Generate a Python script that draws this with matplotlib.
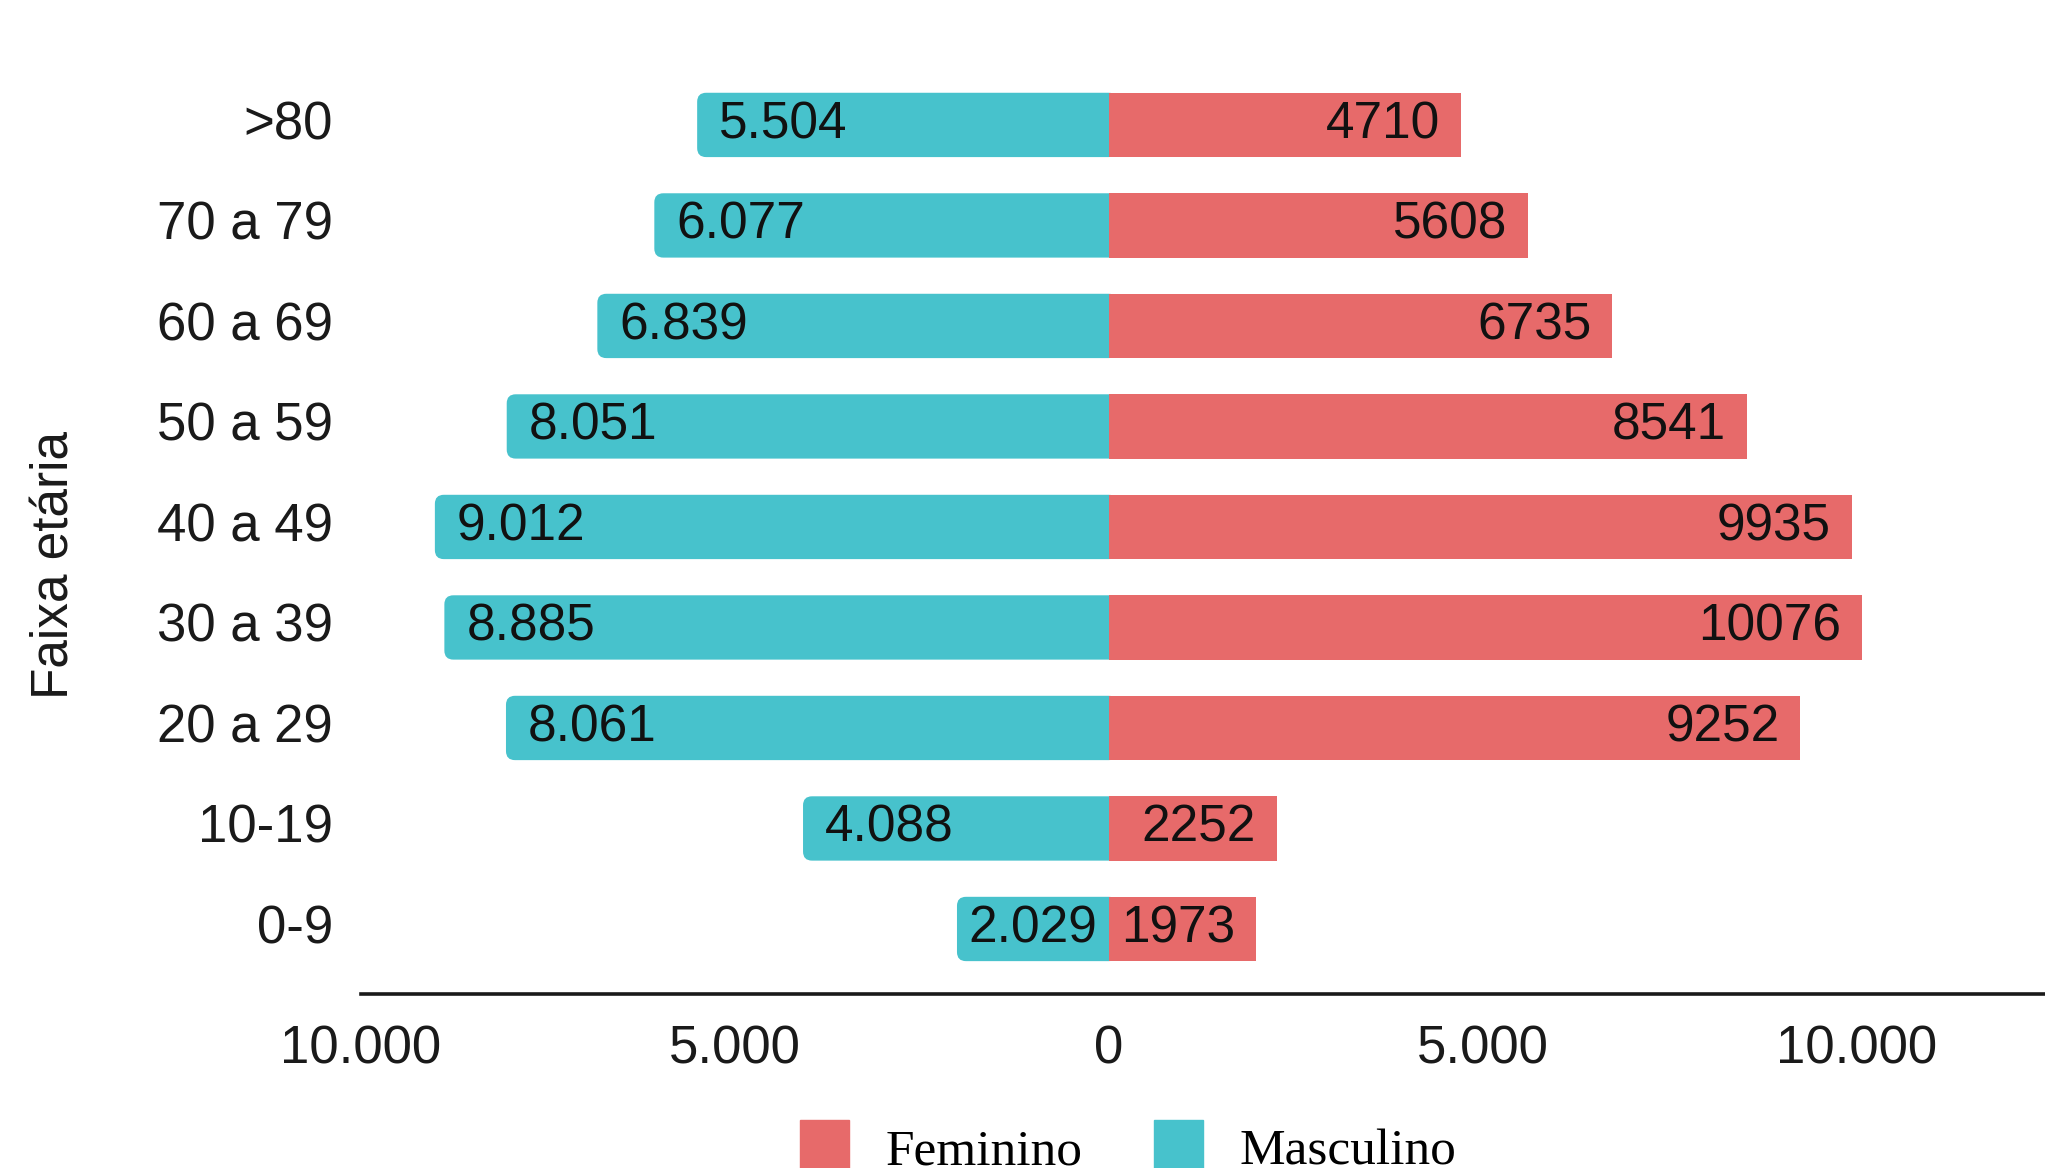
import numpy as np
import matplotlib
matplotlib.use('Agg')
import matplotlib.pyplot as plt
from matplotlib.patches import FancyBboxPatch, Patch
from matplotlib.ticker import FuncFormatter
from matplotlib.transforms import ScaledTranslation

# Pirâmide etária: casos por faixa e sexo
faixas = ['0-9', '10-19', '20 a 29', '30 a 39', '40 a 49', '50 a 59', '60 a 69', '70 a 79', '>80']
masculino = [2029, 4088, 8061, 8885, 9012, 8051, 6839, 6077, 5504]
feminino = [1973, 2252, 9252, 10076, 9935, 8541, 6735, 5608, 4710]

cor_fem = '#E76A6A'
cor_masc = '#47C2CC'

plt.rcParams['font.family'] = ['Liberation Sans', 'DejaVu Sans']

W, H = 2045, 1168
fig = plt.figure(figsize=(W / 100, H / 100), dpi=100)
ax = fig.add_axes([361 / W, 1 - 994 / H, (W - 361) / W, 994 / H])
ax.set_xlim(-10000, 12523)
ax.set_ylim(-0.647, 9.243)

y = np.arange(len(faixas))
alt = 0.64

# pixels por unidade, para arredondar as pontas das barras
p0 = ax.transData.transform((0, 0))
p1 = ax.transData.transform((1000, 1))
px_x = (p1[0] - p0[0]) / 1000
px_y = (p1[1] - p0[1])
raio = 9 / px_x
aspect = px_x / px_y

for yi, m in zip(y, masculino):
    box = FancyBboxPatch((-m, yi - alt / 2), m + raio, alt,
                         boxstyle=f'round,pad=0,rounding_size={raio}',
                         mutation_aspect=aspect, fc=cor_masc, ec='none', zorder=1)
    ax.add_patch(box)
ax.barh(y, feminino, height=alt, color=cor_fem, zorder=2)

# rótulos dentro das barras
textos = []
for yi, m, f in zip(y, masculino, feminino):
    tm = ax.annotate(f'{m:,}'.replace(',', '.'), (-m, yi), xytext=(22, 0), textcoords='offset pixels',
                     ha='left', va='center', fontsize=37, color='#111111', zorder=3)
    tf = ax.annotate(str(f), (f, yi), xytext=(-21, 0), textcoords='offset pixels',
                     ha='right', va='center', fontsize=37, color='#111111', zorder=3)
    textos.append((tm, m, 22, 1))
    textos.append((tf, f, 21, -1))

fig.canvas.draw()
r = fig.canvas.get_renderer()
for t, v, off, sinal in textos:
    larg = t.get_window_extent(r).width
    barra = v * px_x
    if off + larg > barra - 4:
        t.set_position((sinal * (barra - larg) / 2, 0))

ax.set_yticks(y)
ax.set_yticklabels(faixas)
ax.set_xticks([-10000, -5000, 0, 5000, 10000])
ax.xaxis.set_major_formatter(FuncFormatter(lambda v, p: f'{abs(int(v)):,}'.replace(',', '.')))
ax.tick_params(axis='y', length=0, pad=20, labelsize=38, labelcolor='#1a1a1a')
ax.tick_params(axis='x', length=0, pad=22, labelsize=38, labelcolor='#1a1a1a')

# sobe um pouco os nomes das faixas
sobe = ScaledTranslation(0, 5 / 100, fig.dpi_scale_trans)
for lab in ax.get_yticklabels():
    lab.set_transform(lab.get_transform() + sobe)

for s in ['top', 'right', 'left']:
    ax.spines[s].set_visible(False)
ax.spines['bottom'].set_linewidth(2.6)
ax.spines['bottom'].set_color('#1a1a1a')

fig.text(55 / W, 1 - 565 / H, 'Faixa etária', rotation=90, ha='center', va='center',
         fontsize=37, color='#1a1a1a')

handles = [Patch(color=cor_fem, label='Feminino'), Patch(color=cor_masc, label='Masculino')]
fig.legend(handles=handles, loc='upper center', bbox_to_anchor=(1128 / W, 1 - 1094 / H),
           ncol=2, frameon=False, borderpad=0, handlelength=0.96, handleheight=1.3,
           handletextpad=0.7, columnspacing=1.4,
           prop={'family': 'Liberation Serif', 'size': 37})

fig.savefig('out.png', dpi=100)
